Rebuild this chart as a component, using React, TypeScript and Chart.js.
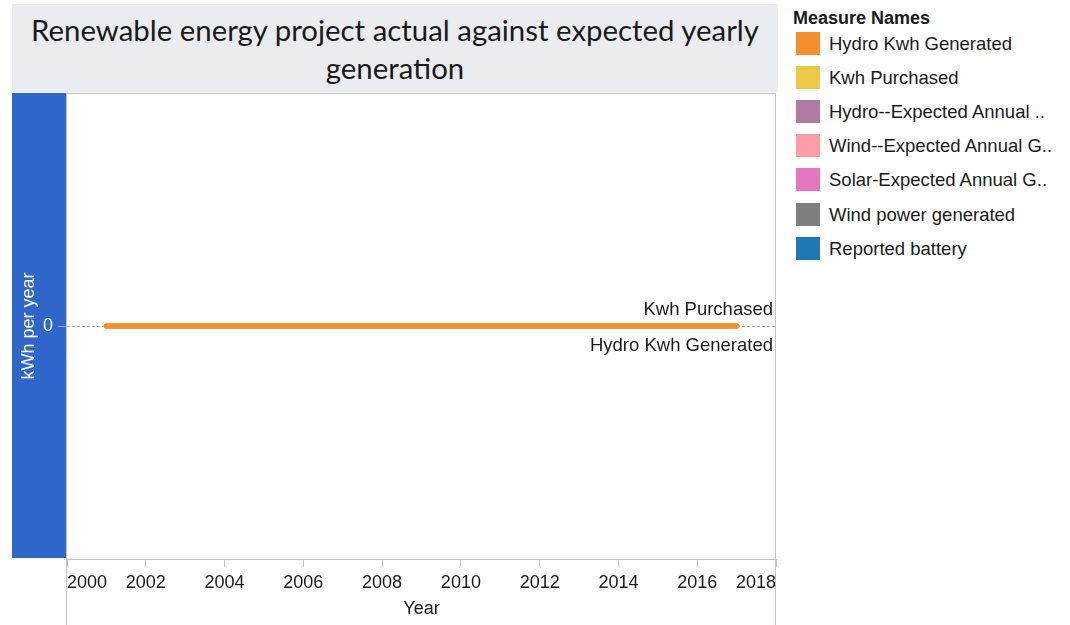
import React, { useEffect, useRef } from "react";
import { Chart, registerables } from "chart.js";

Chart.register(...registerables);

const titleLine1 = "Renewable energy project actual against expected yearly";
const titleLine2 = "generation";
const legendTitle = "Measure Names";
const xAxisTitle = "Year";
const yAxisTitle = "kWh per year";

const years = [2001, 2002, 2003, 2004, 2005, 2006, 2007, 2008, 2009, 2010, 2011, 2012, 2013, 2014, 2015, 2016, 2017];
const hydroKwhGenerated = [0, 0, 0, 0, 0, 0, 0, 0, 0, 0, 0, 0, 0, 0, 0, 0, 0];
const kwhPurchased = [0, 0, 0, 0, 0, 0, 0, 0, 0, 0, 0, 0, 0, 0, 0, 0, 0];
const hydroExpected: number[] = [];
const windExpected: number[] = [];
const solarExpected: number[] = [];
const windGenerated: number[] = [];
const reportedBattery: number[] = [];

const seriesNames = [
  "Hydro Kwh Generated",
  "Kwh Purchased",
  "Hydro--Expected Annual ..",
  "Wind--Expected Annual G..",
  "Solar-Expected Annual G..",
  "Wind power generated",
  "Reported battery",
];
const seriesColors = ["#f28e2b", "#edc948", "#b07aa1", "#ff9da7", "#e377c2", "#7f7f7f", "#1f77b4"];
const seriesValues = [hydroKwhGenerated, kwhPurchased, hydroExpected, windExpected, solarExpected, windGenerated, reportedBattery];

const xTicks = [2000, 2002, 2004, 2006, 2008, 2010, 2012, 2014, 2016, 2018];
const yTicks = [0];

// end-of-line labels: [series index, text, vertical offset direction]
const endLabels: [number, string, number][] = [
  [1, "Kwh Purchased", -1],
  [0, "Hydro Kwh Generated", 1],
];

const FONT = '"Liberation Sans", Arial, sans-serif';
const BORDER = "#c3c3c3";
const BAND = "#2f66c9";

export default function App() {
  const canvasRef = useRef<HTMLCanvasElement | null>(null);

  useEffect(() => {
    const canvas = canvasRef.current;
    if (!canvas) return;

    const framePlugin = {
      id: "frame",
      beforeDraw(chart: any) {
        const { ctx, chartArea } = chart;
        ctx.save();
        ctx.fillStyle = BAND;
        ctx.fillRect(12, chartArea.top, chartArea.left - 1 - 12, chartArea.bottom - chartArea.top - 1);
        ctx.restore();
      },
      afterDraw(chart: any) {
        const { ctx, chartArea } = chart;
        const l = Math.round(chartArea.left) - 0.5;
        const r = Math.round(chartArea.right) - 0.5;
        const t = Math.round(chartArea.top) + 0.5;
        const b = Math.round(chartArea.bottom) + 0.5;
        ctx.save();
        ctx.strokeStyle = BORDER;
        ctx.lineWidth = 1;
        ctx.beginPath();
        ctx.moveTo(l, t);
        ctx.lineTo(r, t);
        ctx.moveTo(l, b);
        ctx.lineTo(r, b);
        ctx.moveTo(l, t);
        ctx.lineTo(l, chart.height);
        ctx.moveTo(r, t);
        ctx.lineTo(r, chart.height);
        ctx.stroke();
        // end labels
        ctx.fillStyle = "#1a1a1a";
        ctx.font = `18.5px ${FONT}`;
        ctx.textAlign = "right";
        ctx.textBaseline = "middle";
        const ys = chart.scales.y;
        endLabels.forEach(([idx, text, side]) => {
          const vals = seriesValues[idx];
          const yPix = ys.getPixelForValue(vals[vals.length - 1]);
          ctx.fillText(text, chartArea.right - 3, yPix + (side < 0 ? -16 : 20));
        });
        ctx.restore();
      },
    };

    const chart = new Chart(canvas, {
      type: "line",
      data: {
        datasets: seriesNames.map((name, i) => ({
          label: name,
          data: seriesValues[i].map((v, j) => ({ x: years[j], y: v })),
          borderColor: seriesColors[i],
          backgroundColor: seriesColors[i],
          borderWidth: 5.5,
          pointRadius: 0,
          borderCapStyle: "round",
          fill: false,
        })),
      },
      options: {
        responsive: false,
        animation: false,
        devicePixelRatio: 1,
        layout: { padding: { left: 12, top: 93, right: 14, bottom: 0 } },
        plugins: { legend: { display: false }, tooltip: { enabled: false } },
        scales: {
          x: {
            type: "linear",
            min: xTicks[0],
            max: xTicks[xTicks.length - 1],
            afterBuildTicks(scale: any) {
              scale.ticks = xTicks.map((v) => ({ value: v }));
            },
            afterFit(scale: any) {
              scale.height = 66;
            },
            ticks: {
              autoSkip: false,
              maxRotation: 0,
              align: "inner",
              color: "#1a1a1a",
              font: { family: FONT, size: 18 },
              padding: 5,
              callback: (v: any) => String(v),
            },
            grid: { display: true, drawOnChartArea: false, drawTicks: true, tickLength: 8, tickColor: BORDER, color: BORDER },
            border: { display: false },
            title: {
              display: true,
              text: xAxisTitle,
              color: "#1a1a1a",
              font: { family: FONT, size: 18 },
              padding: { top: 4, bottom: 5 },
            },
          },
          y: {
            type: "linear",
            min: -1,
            max: 1,
            afterBuildTicks(scale: any) {
              scale.ticks = yTicks.map((v) => ({ value: v }));
            },
            afterFit(scale: any) {
              scale.width = 55;
            },
            ticks: {
              color: "#ffffff",
              font: { family: FONT, size: 18 },
              padding: 5,
              callback: (v: any) => String(v),
            },
            grid: {
              display: true,
              drawOnChartArea: true,
              drawTicks: true,
              tickLength: 9,
              color: "#a8a8a8",
              tickColor: "#a8a8a8",
              tickBorderDash: [],
              lineWidth: 1,
            },
            border: { display: false, dash: [3, 2] },
            title: {
              display: true,
              text: yAxisTitle,
              color: "#ffffff",
              font: { family: FONT, size: 18 },
              padding: { top: 6, bottom: 6 },
            },
          },
        },
      },
      plugins: [framePlugin],
    } as any);

    return () => chart.destroy();
  }, []);

  return (
    <div style={{ position: "absolute", left: 0, top: 0, width: 1070, height: 625, background: "#fff", overflow: "hidden" }}>
      <div
        style={{
          position: "absolute",
          left: 12,
          top: 4,
          width: 766,
          height: 88,
          background: "#ebecf0",
          fontFamily: "Lato, sans-serif",
          fontSize: 29.4,
          color: "#1a1a1a",
          textAlign: "center",
          boxSizing: "border-box",
          paddingTop: 7,
          whiteSpace: "nowrap",
        }}
      >
        <div style={{ lineHeight: "38px" }}>{titleLine1}</div>
        <div style={{ lineHeight: "38px" }}>{titleLine2}</div>
      </div>
      <canvas ref={canvasRef} width={790} height={625} style={{ position: "absolute", left: 0, top: 0, width: 790, height: 625 }} />
      <div style={{ position: "absolute", left: 793, top: 7, fontFamily: FONT, color: "#1a1a1a" }}>
        <div style={{ fontWeight: "bold", fontSize: 18, lineHeight: "22px", height: 22, whiteSpace: "nowrap" }}>{legendTitle}</div>
        {seriesNames.map((name, i) => (
          <div key={name} style={{ position: "absolute", left: 3, top: 25 + i * 34.1, height: 23, display: "flex", alignItems: "center", whiteSpace: "nowrap" }}>
            <div style={{ width: 24, height: 23, background: seriesColors[i] }} />
            <div style={{ marginLeft: 9, fontSize: 18.5, lineHeight: "23px" }}>{name}</div>
          </div>
        ))}
      </div>
    </div>
  );
}
